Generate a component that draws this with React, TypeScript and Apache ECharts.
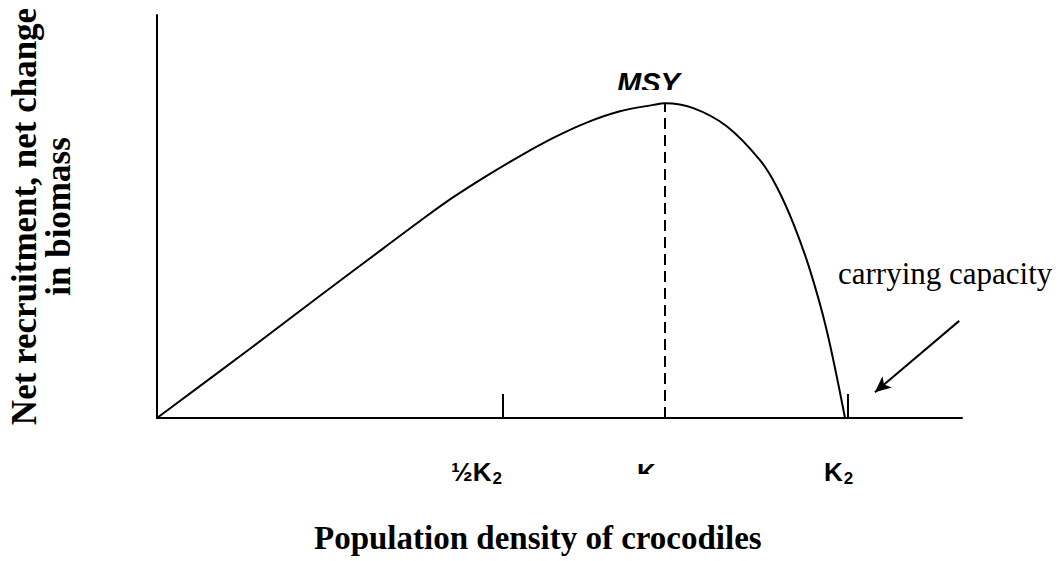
import React, { useEffect, useRef } from "react";
import * as echarts from "echarts";

// Population density (x, with K2 = 100) and net recruitment (y)
const densityX = [0, 13.46, 23.11, 32.75, 38.06, 42.88, 47.71, 52.53, 57.35, 62.18, 67.0, 71.82, 73.52, 77.61, 82.45, 87.26, 89.68, 92.08, 94.5, 96.9, 99.57];
const recruitY = [0, 17.2, 29.7, 42.1, 48.9, 54.8, 60.1, 65.0, 69.5, 73.3, 76.1, 77.7, 78.1, 76.9, 72.4, 64.0, 57.4, 48.3, 36.7, 21.9, 0];
const msyPoint = [73.52, 78.1];
const tickValues = [0, 50, 100];
const arrowFrom = [116.1, 24.1];
const arrowTo = [103.9, 6.4];
const xMax = 116.5;
const yMax = 100;

export default function App() {
  const ref = useRef<HTMLDivElement>(null);
  useEffect(() => {
    if (!ref.current) return;
    const chart = echarts.init(ref.current, undefined, { renderer: "svg" });
    const data = densityX.map((x, i) => [x, recruitY[i]]);
    const black = "#000";
    const serif = "'Liberation Serif', 'Times New Roman', serif";
    const sans = "'Liberation Sans', Arial, sans-serif";
    chart.setOption({
      animation: false,
      backgroundColor: "#fff",
      grid: { left: 157, top: 15, right: 100, bottom: 143, outerBoundsMode: "none" },
      xAxis: {
        type: "value",
        min: 0,
        max: xMax,
        axisLine: { show: true, onZero: false, lineStyle: { color: black, width: 2 } },
        axisTick: { show: true, inside: true, length: 24, customValues: tickValues, lineStyle: { color: black, width: 2 } },
        axisLabel: { show: false },
        splitLine: { show: false },
      },
      yAxis: {
        type: "value",
        min: 0,
        max: yMax,
        axisLine: { show: true, lineStyle: { color: black, width: 2 } },
        axisTick: { show: false },
        axisLabel: { show: false },
        splitLine: { show: false },
        name: "Net recruitment, net change\nin biomass",
        nameLocation: "middle",
        nameRotate: 90,
        nameGap: 82,
        nameTextStyle: { fontFamily: serif, fontWeight: "bold", fontSize: 35, color: black, lineHeight: 34 },
      },
      series: [
        {
          type: "line",
          data,
          smooth: 0.35,
          showSymbol: false,
          symbol: "none",
          lineStyle: { color: black, width: 2 },
          markLine: {
            silent: true,
            symbol: "none",
            label: { show: false },
            data: [
              [
                { coord: [msyPoint[0], 0], lineStyle: { type: [11, 6], width: 2, color: black } },
                { coord: [msyPoint[0], msyPoint[1]] },
              ],
              [
                { coord: arrowFrom, symbol: "none", lineStyle: { type: "solid", width: 2, color: black } },
                { coord: arrowTo, symbol: "arrow", symbolSize: [11, 16] },
              ],
            ],
          },
        },
      ],
      graphic: [
        { type: "text", left: 617, top: 68, z: 10, style: { text: "MSY", font: `italic bold 29px ${sans}`, fill: black } },
        {
          type: "text", left: 451, top: 459, z: 10,
          style: {
            text: "½K{sub|2}", font: `bold 26px ${sans}`, fill: black,
            rich: { sub: { fontSize: 17, fontWeight: "bold", fontFamily: sans, padding: [12, 0, 0, 1] } },
          },
        },
        { type: "text", left: 637, top: 460, z: 10, style: { text: "K", font: `bold 26px ${sans}`, fill: black } },
        {
          type: "text", left: 824, top: 459, z: 10,
          style: {
            text: "K{sub|2}", font: `bold 26px ${sans}`, fill: black,
            rich: { sub: { fontSize: 17, fontWeight: "bold", fontFamily: sans, padding: [12, 0, 0, 1] } },
          },
        },
        { type: "rect", z: 20, shape: { x: 600, y: 90, width: 100, height: 10 }, style: { fill: "#fff" } },
        { type: "rect", z: 20, shape: { x: 430, y: 484, width: 450, height: 22 }, style: { fill: "#fff" } },
        { type: "rect", z: 21, shape: { x: 628, y: 474, width: 45, height: 14 }, style: { fill: "#fff" } },
        { type: "text", left: 838, top: 258, z: 10, style: { text: "carrying capacity", font: `31px ${serif}`, fill: black } },
        { type: "text", left: 314, top: 521, z: 10, style: { text: "Population density of crocodiles", font: `bold 33px ${serif}`, fill: black } },
      ],
    });
    return () => chart.dispose();
  }, []);
  return <div ref={ref} style={{ position: "fixed", left: 0, top: 0, width: 1062, height: 561 }} />;
}
